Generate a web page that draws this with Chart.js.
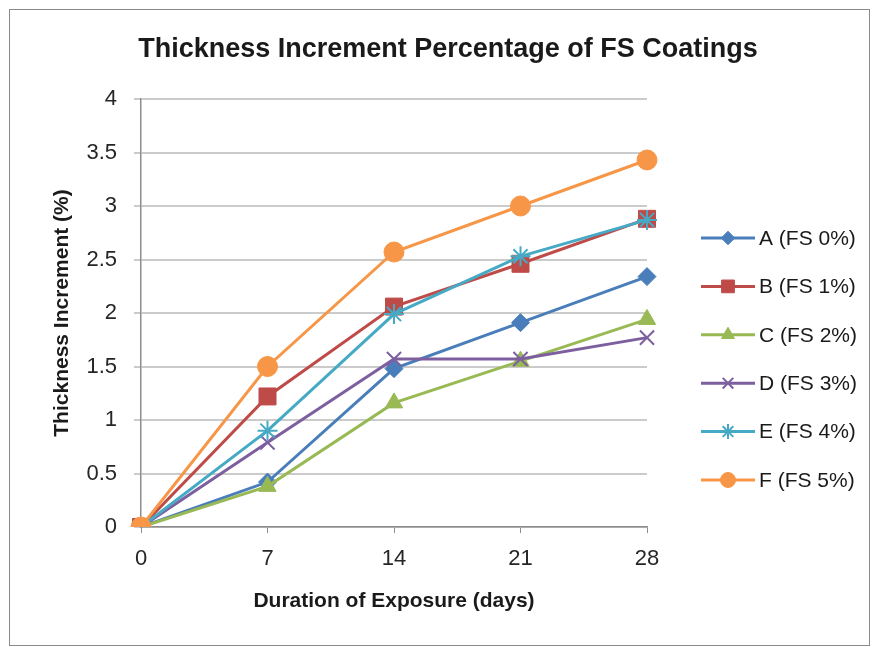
<!DOCTYPE html>
<html lang="en">
<head>
    <meta charset="UTF-8">
    <title>Thickness Increment Percentage of FS Coatings</title>
    <script src="https://cdn.jsdelivr.net/npm/chart.js"></script>
    <style>
        body {
            margin: 0;
            background: #fff;
        }
        #wrap {
            position: relative;
            width: 878px;
            height: 647px;
        }
        #frame {
            position: absolute;
            left: 9px;
            top: 9px;
            width: 859px;
            height: 635px;
            border: 1px solid #8a8a8a;
            pointer-events: none;
        }
    </style>
</head>
<body>
    <div id="wrap">
        <canvas id="myChart" width="878" height="647"></canvas>
        <div id="frame"></div>
    </div>

    <script>
        // data
        const days = ['0', '7', '14', '21', '28'];
        const seriesNames = ['A (FS 0%)', 'B (FS 1%)', 'C (FS 2%)', 'D (FS 3%)', 'E (FS 4%)', 'F (FS 5%)'];
        const fs0 = [0, 0.42, 1.48, 1.91, 2.34];
        const fs1 = [0, 1.22, 2.06, 2.46, 2.88];
        const fs2 = [0, 0.38, 1.16, 1.55, 1.94];
        const fs3 = [0, 0.79, 1.57, 1.57, 1.77];
        const fs4 = [0, 0.90, 1.99, 2.53, 2.87];
        const fs5 = [0, 1.50, 2.57, 3.00, 3.43];
        const yTicks = [0, 0.5, 1, 1.5, 2, 2.5, 3, 3.5, 4];

        const colors = ['#4A7EBB', '#BE4B48', '#98B954', '#7D5FA0', '#46AAC5', '#F79646'];
        const markers = ['rectRot', 'rect', 'triangle', 'crossRot', 'star', 'circle'];
        const radii = [9, 12, 10, 10, 10, 10];
        const values = [fs0, fs1, fs2, fs3, fs4, fs5];

        const FONT = "'Liberation Sans', Arial, sans-serif";

        const datasets = seriesNames.map((name, i) => ({
            label: name,
            data: values[i],
            borderColor: colors[i],
            backgroundColor: colors[i],
            borderWidth: 3,
            tension: 0,
            pointStyle: markers[i],
            pointRadius: radii[i],
            pointHoverRadius: radii[i],
            pointBorderWidth: (markers[i] === 'crossRot' || markers[i] === 'star') ? 2 : 1,
            pointBackgroundColor: colors[i],
            pointBorderColor: colors[i],
            order: seriesNames.length - i  // later series on top, like Excel
        }));

        // title + legend drawn by hand so they sit where the original has them
        const extras = {
            id: 'extras',
            afterDraw(chart) {
                const ctx = chart.ctx;
                const area = chart.chartArea;
                ctx.save();

                ctx.fillStyle = '#1a1a1a';
                ctx.font = 'bold 27px ' + FONT;
                ctx.textAlign = 'center';
                ctx.textBaseline = 'alphabetic';
                ctx.fillText('Thickness Increment Percentage of FS Coatings', 448, 57);

                const lx = area.right + 54;
                chart.data.datasets.forEach((ds, i) => {
                    const y = 238 + i * 48.4;
                    ctx.strokeStyle = ds.borderColor;
                    ctx.lineWidth = 3;
                    ctx.beginPath();
                    ctx.moveTo(lx, y);
                    ctx.lineTo(lx + 54, y);
                    ctx.stroke();

                    ctx.fillStyle = ds.borderColor;
                    ctx.strokeStyle = ds.borderColor;
                    ctx.lineWidth = ds.pointBorderWidth;
                    Chart.helpers.drawPoint(ctx, {
                        pointStyle: ds.pointStyle,
                        radius: ds.pointRadius * 0.75,
                        borderWidth: ds.pointBorderWidth,
                        rotation: 0
                    }, lx + 27, y);

                    ctx.fillStyle = '#1a1a1a';
                    ctx.font = '21px ' + FONT;
                    ctx.textAlign = 'left';
                    ctx.textBaseline = 'middle';
                    ctx.fillText(ds.label, lx + 58, y + 1);
                });
                ctx.restore();
            }
        };

        const ctx = document.getElementById('myChart').getContext('2d');
        const myChart = new Chart(ctx, {
            type: 'line',
            data: {
                labels: days,
                datasets: datasets
            },
            options: {
                responsive: false,
                animation: false,
                devicePixelRatio: 1,
                layout: {
                    padding: { left: 0, right: 231, top: 99, bottom: 0 }
                },
                plugins: {
                    legend: { display: false },
                    title: { display: false },
                    tooltip: { enabled: false }
                },
                scales: {
                    x: {
                        offset: false,
                        grid: {
                            drawOnChartArea: false,
                            drawTicks: true,
                            tickLength: 6,
                            color: '#8c8c8c',
                            offset: false
                        },
                        border: { color: '#8c8c8c', width: 1.5 },
                        ticks: {
                            padding: 13,
                            color: '#262626',
                            font: { family: FONT, size: 22 }
                        },
                        title: {
                            display: true,
                            text: 'Duration of Exposure (days)',
                            color: '#1a1a1a',
                            font: { family: FONT, size: 21, weight: 'bold' },
                            padding: { top: 0, bottom: 33 }
                        },
                        afterFit(scale) {
                            scale.height = 120;
                        }
                    },
                    y: {
                        min: 0,
                        max: 4,
                        grid: {
                            color: '#CBCBCB',
                            lineWidth: 2,
                            tickLength: 7
                        },
                        border: { color: '#8c8c8c', width: 1.5 },
                        afterBuildTicks(scale) {
                            scale.ticks = yTicks.map(v => ({ value: v }));
                        },
                        ticks: {
                            padding: 17,
                            color: '#262626',
                            font: { family: FONT, size: 22 },
                            callback: v => String(v)
                        },
                        title: {
                            display: true,
                            text: 'Thickness Increment (%)',
                            color: '#1a1a1a',
                            font: { family: FONT, size: 21, weight: 'bold' },
                            padding: { top: 50, bottom: 0 }
                        },
                        afterFit(scale) {
                            scale.width = 141;
                        }
                    }
                }
            },
            plugins: [extras]
        });
    </script>
</body>
</html>
